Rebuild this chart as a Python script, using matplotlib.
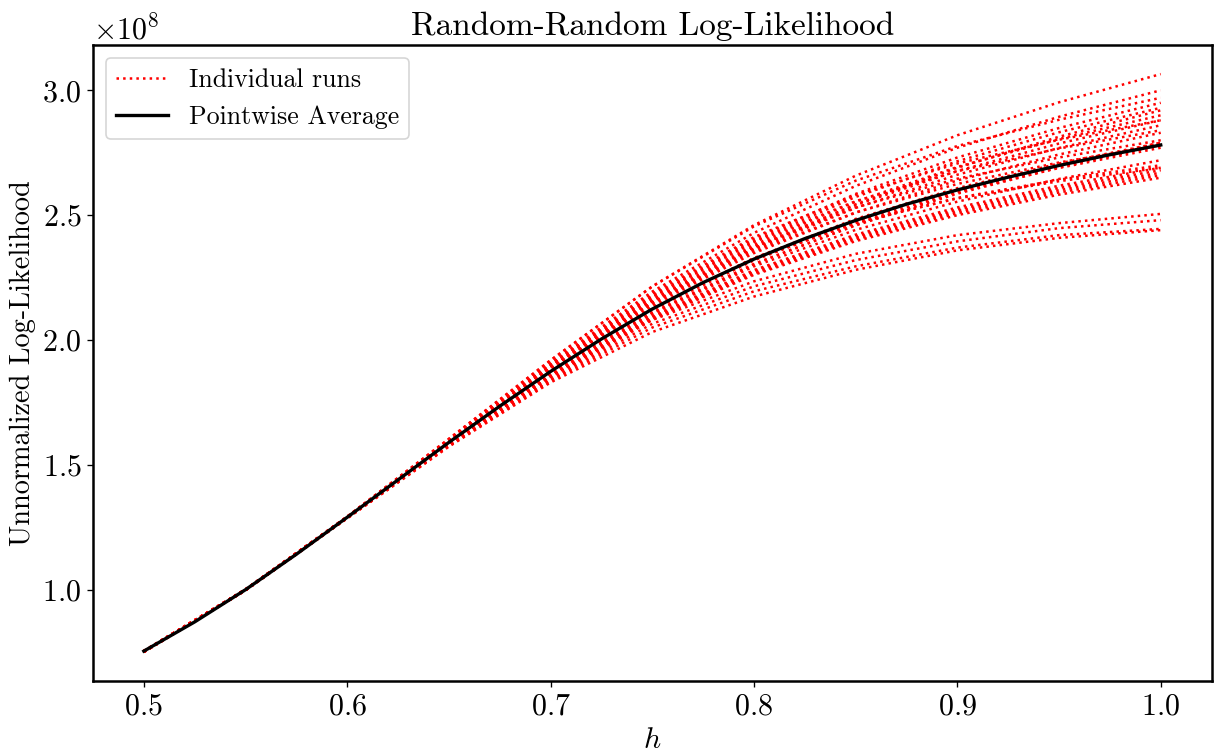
import numpy as np
import matplotlib.pyplot as plt

plt.rcParams.update({
    'font.family': 'serif',
    'font.serif': ['cmr10'],
    'mathtext.fontset': 'cm',
    'axes.formatter.use_mathtext': True,
    'font.size': 18,
    'axes.unicode_minus': False,
})

h_runs = [0.50, 0.55, 0.60, 0.65, 0.70, 0.75, 0.80, 0.85, 0.90, 0.95, 1.00]

# h grid for the average (step 0.025)
h_avg = [0.500, 0.525, 0.550, 0.575, 0.600, 0.625, 0.650, 0.675, 0.700, 0.725, 0.750,
         0.775, 0.800, 0.825, 0.850, 0.875, 0.900, 0.925, 0.950, 0.975, 1.000]

# pointwise average, in units of 1e8
avg = [0.754, 0.871, 1.000, 1.142, 1.290, 1.440, 1.590, 1.735, 1.874, 2.004, 2.124,
       2.230, 2.324, 2.406, 2.479, 2.544, 2.601, 2.652, 2.699, 2.742, 2.781]

# individual runs, in units of 1e8
runs = [
    [0.754, 1.001, 1.293, 1.604, 1.919, 2.215, 2.460, 2.658, 2.820, 2.952, 3.065],
    [0.753, 1.001, 1.292, 1.601, 1.909, 2.194, 2.429, 2.617, 2.770, 2.894, 3.000],
    [0.751, 1.001, 1.292, 1.604, 1.919, 2.214, 2.455, 2.638, 2.777, 2.882, 2.970],
    [0.755, 1.001, 1.292, 1.598, 1.901, 2.178, 2.405, 2.585, 2.731, 2.849, 2.950],
    [0.752, 1.000, 1.291, 1.597, 1.898, 2.172, 2.396, 2.573, 2.716, 2.832, 2.930],
    [0.754, 1.000, 1.291, 1.594, 1.887, 2.150, 2.367, 2.543, 2.690, 2.814, 2.920],
    [0.752, 0.999, 1.291, 1.596, 1.893, 2.162, 2.381, 2.554, 2.693, 2.805, 2.900],
    [0.753, 1.001, 1.291, 1.600, 1.905, 2.186, 2.412, 2.581, 2.707, 2.802, 2.880],
    [0.751, 0.998, 1.291, 1.595, 1.890, 2.156, 2.372, 2.541, 2.677, 2.787, 2.880],
    [0.754, 1.000, 1.291, 1.594, 1.887, 2.149, 2.362, 2.529, 2.662, 2.769, 2.860],
    [0.752, 1.000, 1.291, 1.598, 1.898, 2.173, 2.392, 2.556, 2.676, 2.767, 2.840],
    [0.753, 0.999, 1.290, 1.592, 1.882, 2.140, 2.348, 2.510, 2.639, 2.743, 2.830],
    [0.751, 0.999, 1.290, 1.596, 1.892, 2.160, 2.373, 2.531, 2.646, 2.731, 2.800],
    [0.754, 1.001, 1.290, 1.590, 1.875, 2.127, 2.328, 2.485, 2.608, 2.707, 2.790],
    [0.752, 0.998, 1.289, 1.587, 1.866, 2.109, 2.304, 2.461, 2.590, 2.698, 2.790],
    [0.753, 1.000, 1.290, 1.594, 1.886, 2.148, 2.356, 2.511, 2.625, 2.711, 2.780],
    [0.751, 0.999, 1.289, 1.587, 1.866, 2.109, 2.304, 2.459, 2.586, 2.691, 2.780],
    [0.754, 1.000, 1.290, 1.589, 1.872, 2.120, 2.319, 2.472, 2.593, 2.689, 2.770],
    [0.752, 0.999, 1.289, 1.587, 1.864, 2.104, 2.295, 2.441, 2.554, 2.645, 2.720],
    [0.753, 1.000, 1.289, 1.591, 1.876, 2.128, 2.325, 2.468, 2.569, 2.642, 2.700],
    [0.751, 0.998, 1.289, 1.585, 1.859, 2.095, 2.280, 2.422, 2.531, 2.618, 2.690],
    [0.754, 1.001, 1.289, 1.591, 1.877, 2.131, 2.328, 2.470, 2.567, 2.636, 2.690],
    [0.752, 0.999, 1.289, 1.585, 1.858, 2.092, 2.276, 2.415, 2.523, 2.609, 2.680],
    [0.753, 0.998, 1.289, 1.584, 1.856, 2.088, 2.271, 2.409, 2.516, 2.600, 2.670],
    [0.751, 0.998, 1.289, 1.584, 1.855, 2.085, 2.266, 2.403, 2.508, 2.591, 2.660],
    [0.754, 0.999, 1.289, 1.583, 1.853, 2.082, 2.261, 2.396, 2.500, 2.582, 2.650],
    [0.752, 0.999, 1.287, 1.578, 1.845, 2.080, 2.235, 2.345, 2.420, 2.468, 2.505],
    [0.753, 0.999, 1.287, 1.577, 1.840, 2.065, 2.215, 2.320, 2.395, 2.448, 2.480],
    [0.751, 0.998, 1.286, 1.575, 1.835, 2.050, 2.195, 2.295, 2.370, 2.420, 2.445],
    [0.750, 0.998, 1.286, 1.573, 1.830, 2.032, 2.174, 2.281, 2.359, 2.409, 2.440],
]

fig = plt.figure(figsize=(1214 / 120, 753 / 120), dpi=120)
ax = fig.add_axes([0.0766, 0.0956, 0.9214, 0.8444])

for i, r in enumerate(runs):
    ax.plot(h_runs, np.array(r) * 1e8, 'r:', lw=1.5,
            label='Individual runs' if i == 0 else None)
ax.plot(h_avg, np.array(avg) * 1e8, 'k-', lw=2, label='Pointwise Average')

ax.set_xlabel('$h$')
ax.set_ylabel('Unnormalized Log-Likelihood', fontsize=17)
ax.set_title('Random-Random Log-Likelihood', fontsize=20)
ax.legend(loc='upper left', fontsize=15.5)

for s in ax.spines.values():
    s.set_linewidth(1.5)

fig.savefig('out.png', dpi=120)
